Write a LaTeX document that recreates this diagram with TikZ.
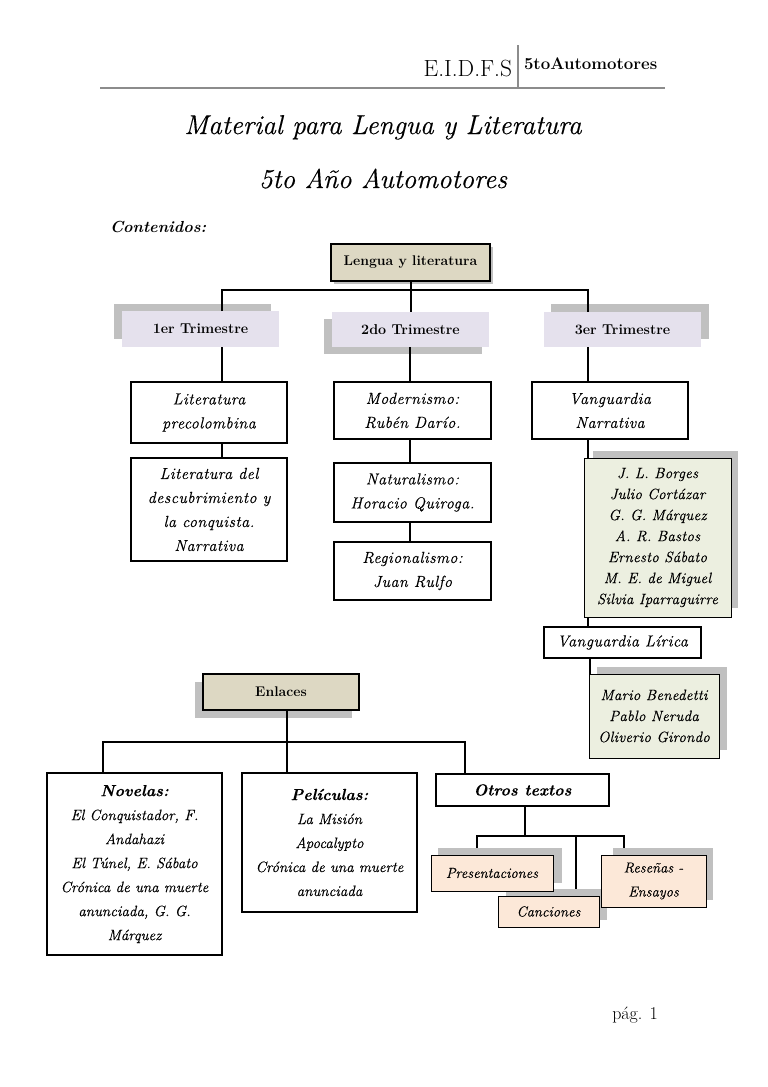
\documentclass[tikz,border=0pt]{standalone}
\usepackage{fontspec}
\setmainfont{Latin Modern Roman}
\usetikzlibrary{calc}
\definecolor{tanc}{RGB}{221,216,195}
\definecolor{lavc}{RGB}{229,225,237}
\definecolor{greenc}{RGB}{236,239,224}
\definecolor{peachc}{RGB}{252,232,216}
\definecolor{shadowc}{RGB}{192,192,192}
\definecolor{headgray}{RGB}{140,140,140}
\newcommand\mybox[7]{\node[#6, minimum width={#4-#2}, minimum height={#5-#3}] (#1) at ({(#2+#4)/2},{(#3+#5)/2}) {#7};}
\newcommand\shad[4]{\fill[shadowc] (#1,#2) rectangle (#3,#4);}
\begin{document}
\begin{tikzpicture}[x=1pt,y=-1pt,
  every node/.style={inner sep=0pt, outer sep=0pt},
  bbox/.style={draw, line width=2pt, fill=white, align=center, font=\fontsize{16}{24}\selectfont\itshape\addfontfeatures{LetterSpace=3,FakeBold=0.3}},
  pbox/.style={draw, line width=2pt, fill=white, align=center, font=\fontsize{15}{24}\selectfont\itshape\addfontfeatures{FakeBold=0.3}},
  tanbox/.style={draw, line width=2pt, fill=tanc, align=center, font=\fontsize{14}{17}\selectfont\bfseries},
  trim/.style={fill=lavc, align=center, font=\fontsize{14.3}{17}\selectfont\bfseries},
  greenbox/.style={draw, line width=0.8pt, fill=greenc, align=center, font=\fontsize{15}{21}\selectfont\itshape\addfontfeatures{LetterSpace=1.5,FakeBold=0.3}},
  peachbox/.style={draw, line width=0.8pt, fill=peachc, align=center, font=\fontsize{14.5}{24}\selectfont\itshape\addfontfeatures{FakeBold=0.3}},
  conn/.style={line width=2pt},
  thinconn/.style={line width=1.6pt}]
\useasboundingbox (0,0) rectangle (768,1087);
\fill[white] (0,0) rectangle (768,1087);

% header
\draw[headgray, line width=2.8pt] (100,88) -- (665,88);
\draw[headgray, line width=1.6pt] (518,45) -- (518,87);
\node[anchor=base east, font=\fontsize{23.4}{26}\selectfont] (hd1) at (512,76) {E.I.D.F.S};
\node[anchor=base west, font=\fontsize{16.8}{18}\selectfont\bfseries] (hd2) at (524,69) {5toAutomotores};

% titles
\node[anchor=base, font=\fontsize{27.2}{30}\selectfont\itshape\addfontfeatures{FakeBold=0.4}] (title1) at (383,134) {Material para Lengua y Literatura};
\node[anchor=base, font=\fontsize{27.2}{30}\selectfont\itshape\addfontfeatures{FakeBold=0.4}] (title2) at (383,188) {5to Año Automotores};
\node[anchor=base west, font=\fontsize{16}{20}\selectfont\itshape\bfseries] (cont) at (110,232) {Contenidos:};

% shadows (top tree)
\shad{334}{247}{493}{284}
\shad{114}{304}{271}{339}
\shad{324}{319}{482}{354}
\shad{551}{304}{709}{339}

% nodes top tree
\mybox{lengua}{331}{244}{490}{281}{tanbox}{Lengua y literatura}
\mybox{t1}{122}{311}{279}{347}{trim}{1er Trimestre}
\mybox{t2}{332}{312}{489}{347}{trim}{2do Trimestre}
\mybox{t3}{544}{312}{701}{347}{trim}{3er Trimestre}

\mybox{lit1}{131}{382}{287}{443}{bbox}{Literatura\\precolombina}
\mybox{lit2}{131}{458}{287}{561}{bbox}{Literatura del\\descubrimiento y\\la conquista.\\Narrativa}
\mybox{mod}{334}{382}{491}{439}{bbox}{Modernismo:\\Rubén Darío.}
\mybox{nat}{334}{463}{491}{522}{bbox}{Naturalismo:\\Horacio Quiroga.}
\mybox{reg}{334}{542}{491}{600}{bbox}{Regionalismo:\\Juan Rulfo}
\mybox{vn}{532}{382}{688}{439}{bbox}{Vanguardia\\Narrativa}
\mybox{vl}{544}{627}{701}{658}{bbox}{Vanguardia Lírica}

% top-tree connectors
\coordinate (busL) at (222,290);
\coordinate (busR) at (588,290);
\coordinate (colA) at (222,0);
\coordinate (colT) at (411,0);
\coordinate (colB) at (410,0);
\coordinate (colC) at (588,0);
\coordinate (colD) at (590,0);
\coordinate (gb2top) at (0,674);
\draw[conn] (colT |- lengua.south) -- (colT |- busL);
\draw[conn] (busL |- t1.north) -- (busL) -- (busR) -- (busR |- t3.north);
\draw[conn] (colT |- busL) -- (colT |- t2.north);
\draw[conn] (colA |- t1.south) -- (colA |- lit1.north);
\draw[conn] (colA |- lit1.south) -- (colA |- lit2.north);
\draw[conn] (colB |- t2.south) -- (colB |- mod.north);
\draw[conn] (colB |- mod.south) -- (colB |- nat.north);
\draw[conn] (colB |- nat.south) -- (colB |- reg.north);
\draw[conn] (colC |- t3.south) -- (colC |- vn.north);
\draw[conn] (colC |- vn.south) -- (colC |- vl.north);
\draw[conn] (colD |- vl.south) -- (colD |- gb2top);

% green boxes
\shad{593}{451}{738}{608}
\mybox{gb1}{584}{458}{731}{617}{greenbox}{J. L. Borges\\Julio Cortázar\\G. G. Márquez\\A. R. Bastos\\Ernesto Sábato\\M. E. de Miguel\\Silvia Iparraguirre}
\shad{597}{667}{727}{750}
\mybox{gb2}{589}{674}{719}{758}{greenbox}{Mario Benedetti\\Pablo Neruda\\Oliverio Girondo}

% Enlaces tree
\shad{195}{682}{352}{718}
\mybox{enl}{203}{674}{359}{710}{tanbox}{Enlaces}
\mybox{nov}{47}{773}{222}{955}{pbox}{{\fontsize{16}{24}\selectfont\bfseries Novelas:}\\El Conquistador, F.\\Andahazi\\El Túnel, E. Sábato\\Crónica de una muerte\\anunciada, G. G.\\Márquez}
\mybox{pel}{242}{773}{417}{912}{pbox}{{\fontsize{16}{24}\selectfont\bfseries Películas:}\\La Misión\\Apocalypto\\Crónica de una muerte\\anunciada}
\mybox{otros}{436}{774}{609}{806}{pbox}{{\fontsize{16}{20}\selectfont\bfseries Otros textos}}

\coordinate (enlX) at (287,0);
\coordinate (busL2) at (103,742);
\coordinate (busR2) at (465,742);
\draw[conn] (enlX |- enl.south) -- (enlX |- busL2);
\draw[conn] (busL2 |- nov.north) -- (busL2) -- (busR2) -- (busR2 |- otros.north);
\draw[conn] (enlX |- busL2) -- (enlX |- pel.north);

% Otros textos subtree
\coordinate (otX) at (525,0);
\coordinate (busL3) at (477,836);
\coordinate (busR3) at (624,836);
\coordinate (canX) at (576,0);
\coordinate (dropY) at (0,856);
\coordinate (canY) at (0,896);
\draw[thinconn] (otX |- otros.south) -- (otX |- busL3);
\draw[thinconn] (busL3 |- dropY) -- (busL3) -- (busR3) -- (busR3 |- dropY);
\draw[thinconn] (canX |- busL3) -- (canX |- canY);

\shad{438}{848}{562}{883}
\shad{506}{889}{607}{920}
\shad{613}{848}{713}{900}
\mybox{pres}{431}{855}{553}{891}{peachbox}{Presentaciones}
\mybox{can}{498}{896}{599}{927}{peachbox}{Canciones}
\mybox{res}{601}{855}{706}{907}{peachbox}{Reseñas -\\Ensayos}

% footer
\node[anchor=base east, font=\fontsize{18}{20}\selectfont] (pag) at (658,1019) {pág. 1};
\end{tikzpicture}
\end{document}
